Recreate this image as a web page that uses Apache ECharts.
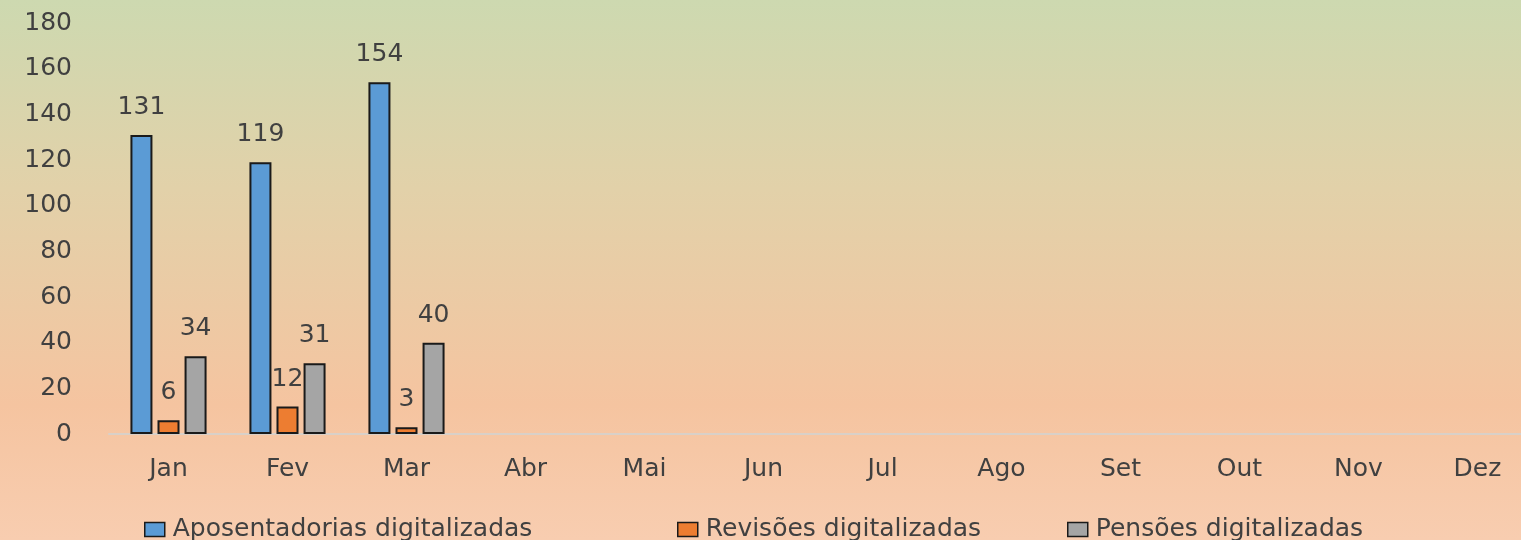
<!DOCTYPE html>
<html lang="pt">
<head>
<meta charset="UTF-8">
<title>Digitalizações por mês</title>
<script src="https://cdn.jsdelivr.net/npm/echarts@6/dist/echarts.min.js"></script>
<style>
  html, body { margin: 0; padding: 0; }
  #chart { width: 1521px; height: 540px; }
</style>
</head>
<body>
<div id="chart"></div>
<script>
// data
const months = ['Jan', 'Fev', 'Mar', 'Abr', 'Mai', 'Jun', 'Jul', 'Ago', 'Set', 'Out', 'Nov', 'Dez'];
const aposentadorias = [131, 119, 154, null, null, null, null, null, null, null, null, null];
const revisoes = [6, 12, 3, null, null, null, null, null, null, null, null, null];
const pensoes = [34, 31, 40, null, null, null, null, null, null, null, null, null];
const seriesNames = ['Aposentadorias digitalizadas', 'Revisões digitalizadas', 'Pensões digitalizadas'];
const colors = ['#5b9bd5', '#ed7d31', '#a5a5a5'];

const font = 'DejaVu Sans';
const textColor = '#404040';
const fs = 25;

function barSeries(name, data, color) {
  return {
    name: name,
    type: 'bar',
    data: data,
    barWidth: 22,
    barGap: '23%',
    itemStyle: { color: color, borderColor: '#1a1a1a', borderWidth: 2 },
    label: {
      show: true,
      position: 'top',
      distance: 15,
      color: textColor,
      fontFamily: font,
      fontSize: fs
    }
  };
}

function legendAt(name, left) {
  return {
    data: [name],
    left: left,
    top: 512,
    icon: 'rect',
    itemWidth: 20,
    itemHeight: 14,
    itemStyle: { borderColor: '#1a1a1a', borderWidth: 1.5 },
    textStyle: { color: textColor, fontFamily: font, fontSize: fs, padding: [0, 0, 0, 3] }
  };
}

const chart = echarts.init(document.getElementById('chart'));
chart.setOption({
  animation: false,
  backgroundColor: {
    type: 'linear', x: 0, y: 0, x2: 0, y2: 1,
    colorStops: [
      { offset: 0, color: '#cdd9b0' },
      { offset: 0.35, color: '#e2d1a9' },
      { offset: 0.75, color: '#f5c4a0' },
      { offset: 1, color: '#f8cdb0' }
    ]
  },
  color: colors,
  legend: [
    legendAt(seriesNames[0], 139),
    legendAt(seriesNames[1], 672),
    legendAt(seriesNames[2], 1062)
  ],
  // the last month sits partly past the right edge, as in the source
  grid: { left: 109, width: 1428, top: 23, bottom: 106, outerBoundsMode: 'none' },
  xAxis: {
    type: 'category',
    data: months,
    axisLine: { lineStyle: { color: '#d9d0c8', width: 2 } },
    axisTick: { show: false },
    axisLabel: { color: textColor, fontFamily: font, fontSize: fs, margin: 23 }
  },
  yAxis: {
    type: 'value',
    min: 0,
    max: 180,
    interval: 20,
    splitLine: { show: false },
    axisLine: { show: false },
    axisTick: { show: false },
    axisLabel: { color: textColor, fontFamily: font, fontSize: fs, margin: 37 }
  },
  series: [
    barSeries(seriesNames[0], aposentadorias, colors[0]),
    barSeries(seriesNames[1], revisoes, colors[1]),
    barSeries(seriesNames[2], pensoes, colors[2])
  ]
});
</script>
</body>
</html>
